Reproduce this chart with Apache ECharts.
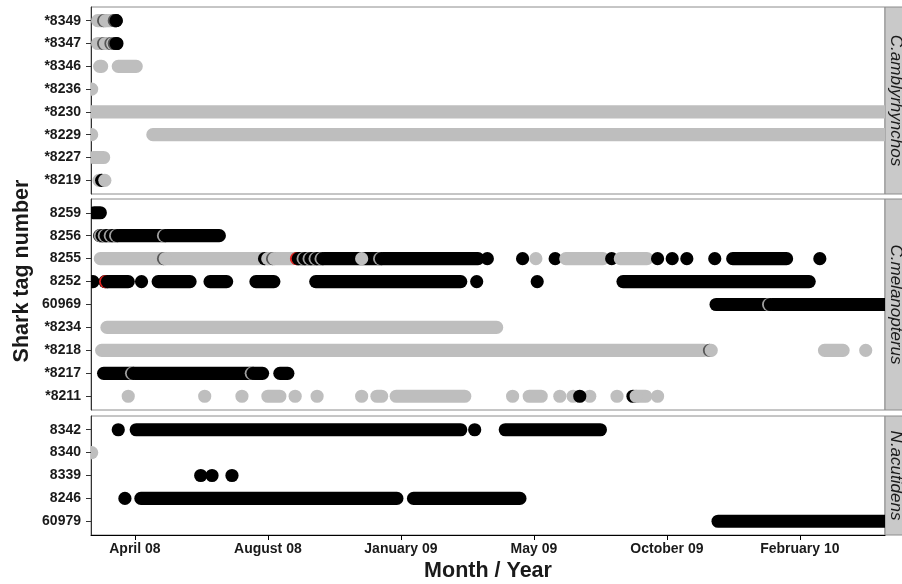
<!DOCTYPE html>
<html>
<head>
<meta charset="utf-8">
<script src="https://cdn.jsdelivr.net/npm/echarts@6/dist/echarts.min.js"></script>
<style>
  html, body { margin: 0; background: #fff; }
  #chart { width: 902px; height: 584px; }
</style>
</head>
<body>
<div id="chart"></div>
<script>
// x unit: weeks of tracking; tick positions carry the month labels
const xTickWeeks = [10, 30, 50, 70, 90, 110]
const xTickLabels = ['April 08', 'August 08', 'January 09', 'May 09', 'October 09', 'February 10']
const xMin = 3.4
const xMax = 122.8

const tagsAmbly = ['*8349', '*8347', '*8346', '*8236', '*8230', '*8229', '*8227', '*8219']
const tagsMelano = ['8259', '8256', '8255', '8252', '60969', '*8234', '*8218', '*8217', '*8211']
const tagsAcuti = ['8342', '8340', '8339', '8246', '60979']
const speciesNames = ['C.amblyrhynchos', 'C.melanopterus', 'N.acutidens']

// detections: [row, first week, last week, colour]  g = grey, b = black
const segsAmbly = [
  [0, 4.4, 6.3, 'g'], [0, 7.0, 7.2, 'b'],
  [1, 4.4, 6.3, 'g'], [1, 7.0, 7.3, 'b'],
  [2, 4.7, 5.0, 'g'], [2, 7.5, 10.2, 'g'],
  [3, 3.5, 3.5, 'g'],
  [4, 3.4, 122.8, 'g'],
  [5, 3.5, 3.5, 'g'], [5, 12.7, 122.8, 'g'],
  [6, 3.8, 5.3, 'g'],
  [7, 4.6, 5.0, 'g']
]

const segsMelano = [
  [0, 3.9, 4.8, 'b'],
  [1, 4.7, 22.7, 'b'],
  [2, 4.8, 33.8, 'g'], [2, 34.4, 61.6, 'b'], [2, 44.1, 44.1, 'g'], [2, 63.0, 63.0, 'b'],
  [2, 68.3, 68.3, 'b'], [2, 70.3, 70.3, 'g'], [2, 73.2, 73.2, 'b'], [2, 74.8, 80.4, 'g'],
  [2, 81.7, 81.7, 'b'], [2, 83.0, 87.0, 'g'], [2, 88.6, 88.6, 'b'], [2, 90.8, 90.8, 'b'],
  [2, 93.0, 93.0, 'b'], [2, 97.2, 97.2, 'b'], [2, 99.9, 108.0, 'b'], [2, 113.0, 113.0, 'b'],
  [3, 3.7, 3.7, 'b'], [3, 5.5, 9.0, 'b'], [3, 11.0, 11.0, 'b'], [3, 13.5, 18.3, 'b'],
  [3, 21.3, 23.8, 'b'], [3, 28.2, 30.9, 'b'], [3, 37.2, 59.0, 'b'], [3, 61.4, 61.4, 'b'],
  [3, 70.5, 70.5, 'b'], [3, 83.4, 111.4, 'b'],
  [4, 97.4, 122.8, 'b'],
  [5, 5.8, 64.4, 'g'],
  [6, 5.0, 95.6, 'g'], [6, 113.7, 116.5, 'g'], [6, 119.9, 119.9, 'g'],
  [7, 5.3, 29.2, 'b'], [7, 31.8, 33.0, 'b'],
  [8, 9.0, 9.0, 'g'], [8, 20.5, 20.5, 'g'], [8, 26.1, 26.1, 'g'], [8, 30.0, 31.8, 'g'],
  [8, 34.1, 34.1, 'g'], [8, 37.4, 37.4, 'g'], [8, 44.1, 44.1, 'g'], [8, 46.4, 47.1, 'g'],
  [8, 49.3, 59.6, 'g'], [8, 66.8, 66.8, 'g'], [8, 69.3, 71.1, 'g'], [8, 73.9, 73.9, 'g'],
  [8, 75.9, 75.9, 'g'], [8, 78.4, 78.4, 'g'], [8, 76.9, 76.9, 'b'], [8, 82.5, 82.5, 'g'],
  [8, 85.1, 86.8, 'g'], [8, 88.6, 88.6, 'g']
]

const segsAcuti = [
  [0, 7.5, 7.5, 'b'], [0, 10.2, 59.0, 'b'], [0, 61.1, 61.1, 'b'], [0, 65.7, 80.0, 'b'],
  [1, 3.5, 3.5, 'g'],
  [2, 19.9, 19.9, 'b'], [2, 21.6, 21.6, 'b'], [2, 24.6, 24.6, 'b'],
  [3, 8.5, 8.5, 'b'], [3, 10.9, 49.4, 'b'], [3, 51.9, 67.9, 'b'],
  [4, 97.7, 122.8, 'b']
]

// overlapping detections seen as crescents: [row, week, colour under, colour over]
const ringsAmbly = [
  [0, 5.3, 'd', 'g'], [0, 6.9, 'd', 'b'],
  [1, 5.3, 'd', 'g'], [1, 6.4, 'd', 'g'], [1, 6.9, 'd', 'b'],
  [7, 5.0, 'b', 'g']
]

const ringsMelano = [
  [1, 4.8, 'l', 'b'], [1, 5.4, 'l', 'b'], [1, 6.3, 'l', 'b'], [1, 7.1, 'l', 'b'], [1, 14.3, 'l', 'b'],
  [2, 14.3, 'd', 'g'], [2, 29.5, 'b', 'g'], [2, 30.7, 'd', 'g'], [2, 34.3, 'r', 'b'],
  [2, 35.3, 'l', 'b'], [2, 36.2, 'l', 'b'], [2, 37.1, 'l', 'b'], [2, 38.0, 'l', 'b'], [2, 46.8, 'l', 'b'],
  [3, 5.6, 'r', 'b'],
  [4, 105.3, 'l', 'b'],
  [6, 96.4, 'd', 'g'],
  [7, 9.5, 'l', 'b'], [7, 27.5, 'l', 'b'],
  [8, 84.9, 'b', 'g']
]

const ringsAcuti = []

const colours = { g: '#bebebe', b: '#000000', d: '#555555', l: '#a0a0a0', r: '#e3231f' }
const R = 6.6
const FONT = '"Liberation Sans", Arial, sans-serif'

const panels = [
  { tags: tagsAmbly, segs: segsAmbly, rings: ringsAmbly, top: 7, height: 187 },
  { tags: tagsMelano, segs: segsMelano, rings: ringsMelano, top: 199, height: 211 },
  { tags: tagsAcuti, segs: segsAcuti, rings: ringsAcuti, top: 416, height: 119 }
]
const plotLeft = 91
const plotWidth = 794

const segRenderer = (segs) => (params, api) => {
  const s = segs[params.dataIndex]
  const p0 = api.coord([s[1], s[0]])
  const p1 = api.coord([s[2], s[0]])
  return {
    type: 'rect',
    shape: { x: p0[0] - R, y: p0[1] - R, width: p1[0] - p0[0] + 2 * R, height: 2 * R, r: R },
    style: { fill: colours[s[3]] }
  }
}

const ringRenderer = (rings) => (params, api) => {
  const k = rings[params.dataIndex]
  const p = api.coord([k[1], k[0]])
  const shift = k[2] === 'b' ? 3.2 : 1.8
  return {
    type: 'group',
    children: [
      { type: 'circle', shape: { cx: p[0], cy: p[1], r: R }, style: { fill: colours[k[2]] } },
      { type: 'circle', shape: { cx: p[0] + shift, cy: p[1], r: R }, style: { fill: colours[k[3]] } }
    ]
  }
}

const chart = echarts.init(document.getElementById('chart'))

const grid = panels.map(p => ({
  left: plotLeft,
  top: p.top,
  width: plotWidth,
  height: p.height,
  show: true,
  borderColor: '#8c8c8c',
  borderWidth: 1
}))

const xAxis = panels.map((p, i) => {
  const bottom = i === panels.length - 1
  return {
    gridIndex: i,
    type: 'value',
    min: xMin,
    max: xMax,
    splitLine: { show: false },
    axisLine: { show: bottom, onZero: false, lineStyle: { color: '#000', width: 1 } },
    axisTick: { show: bottom, length: 5, customValues: xTickWeeks, lineStyle: { color: '#000' } },
    axisLabel: {
      show: bottom,
      customValues: xTickWeeks,
      formatter: v => xTickLabels[xTickWeeks.indexOf(v)],
      margin: 7,
      fontFamily: FONT,
      fontSize: 14,
      fontWeight: 'bold',
      color: '#1a1a1a'
    }
  }
})

const yAxis = panels.map((p, i) => {
  const rows = p.tags.map((t, j) => j)
  return {
    gridIndex: i,
    type: 'value',
    inverse: true,
    min: -0.6,
    max: p.tags.length - 0.4,
    splitLine: { show: false },
    axisLine: { show: true, onZero: false, lineStyle: { color: '#333', width: 1 } },
    axisTick: { show: true, length: 5, customValues: rows, lineStyle: { color: '#333' } },
    axisLabel: {
      customValues: rows,
      formatter: v => p.tags[v],
      margin: 10,
      fontFamily: FONT,
      fontSize: 14,
      fontWeight: 'bold',
      color: '#1a1a1a'
    }
  }
})

const series = []
panels.forEach((p, i) => {
  series.push({
    type: 'custom',
    xAxisIndex: i,
    yAxisIndex: i,
    clip: true,
    renderItem: segRenderer(p.segs),
    encode: { x: [0, 1], y: 2 },
    data: p.segs.map(s => [s[1], s[2], s[0]])
  })
  series.push({
    type: 'custom',
    xAxisIndex: i,
    yAxisIndex: i,
    clip: true,
    renderItem: ringRenderer(p.rings),
    encode: { x: 0, y: 1 },
    data: p.rings.map(k => [k[1], k[0]])
  })
})

const graphic = []
panels.forEach((p, i) => {
  graphic.push({
    type: 'rect',
    shape: { x: plotLeft + plotWidth, y: p.top, width: 40, height: p.height },
    style: { fill: '#c9c9c9', stroke: '#8c8c8c', lineWidth: 1 }
  })
  graphic.push({
    type: 'text',
    x: 896,
    y: p.top + p.height / 2,
    rotation: -Math.PI / 2,
    style: {
      text: speciesNames[i],
      font: 'italic 17px ' + FONT,
      fill: '#1a1a1a',
      align: 'center',
      verticalAlign: 'middle'
    }
  })
})
graphic.push({
  type: 'text',
  x: 22,
  y: 271,
  rotation: Math.PI / 2,
  style: {
    text: 'Shark tag number',
    font: 'bold 21.5px ' + FONT,
    fill: '#1a1a1a',
    align: 'center',
    verticalAlign: 'middle'
  }
})
graphic.push({
  type: 'text',
  x: 488,
  y: 571,
  style: {
    text: 'Month / Year',
    font: 'bold 21.5px ' + FONT,
    fill: '#1a1a1a',
    align: 'center',
    verticalAlign: 'middle'
  }
})

chart.setOption({
  animation: false,
  backgroundColor: '#fff',
  grid,
  xAxis,
  yAxis,
  series,
  graphic
})
</script>
</body>
</html>
